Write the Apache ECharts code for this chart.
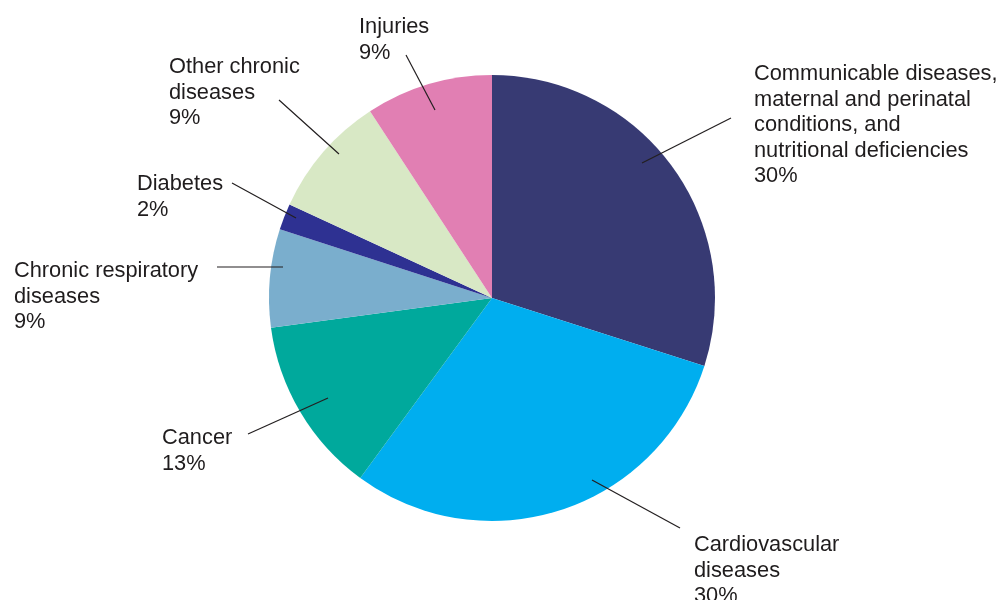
<!DOCTYPE html>
<html>
<head>
<meta charset="utf-8">
<script src="https://cdn.jsdelivr.net/npm/echarts@6/dist/echarts.min.js"></script>
<style>html,body{margin:0;padding:0;background:#fff}#c{width:1000px;height:600px}</style>
</head>
<body>
<div id="c"></div>
<script>
// Data (clockwise from 12 o'clock)
const categories = [
  'Communicable diseases,\nmaternal and perinatal\nconditions, and\nnutritional deficiencies',
  'Cardiovascular\ndiseases',
  'Cancer',
  'Chronic respiratory\ndiseases',
  'Diabetes',
  'Other chronic\ndiseases',
  'Injuries'
];
const values = [29.9, 30.1, 12.8, 7.1, 1.9, 8.9, 9.2];
const pctLabels = ['30%', '30%', '13%', '9%', '2%', '9%', '9%'];
const colors = ['#373a73', '#00aeef', '#00a99c', '#7aaecd', '#2e3192', '#d8e8c5', '#e17fb3'];

// Label layout (text top-left and leader line ends)
const labelBox = [
  {x: 754, y: 61.5, line: [[642, 163], [731, 118]]},
  {x: 694, y: 532.5, line: [[592, 480], [680, 528]]},
  {x: 162, y: 425.5, line: [[328, 398], [248, 434]]},
  {x: 14, y: 258.5, line: [[283, 267], [217, 267]]},
  {x: 137, y: 171.5, line: [[296, 218], [232, 183]]},
  {x: 169, y: 54.5, line: [[339, 154], [279, 100]]},
  {x: 359, y: 14.5, line: [[435, 110], [406, 55]]}
];

const pieData = categories.map((n, i) => ({name: n, value: values[i], itemStyle: {color: colors[i]}}));
const common = {
  type: 'pie',
  center: [492, 298],
  radius: [0, 223],
  startAngle: 90,
  clockwise: true,
  avoidLabelOverlap: false,
  silent: true
};

const chart = echarts.init(document.getElementById('c'), null, {renderer: 'canvas'});
chart.setOption({
  animation: false,
  backgroundColor: '#fff',
  series: [
    Object.assign({}, common, {
      z: 2,
      data: pieData,
      itemStyle: {borderWidth: 0},
      label: {show: false},
      labelLine: {show: false}
    }),
    Object.assign({}, common, {
      z: 5,
      data: pieData.map(d => ({name: d.name, value: d.value, itemStyle: {color: 'rgba(0,0,0,0)'}})),
      itemStyle: {borderWidth: 0},
      label: {
        show: true,
        position: 'outside',
        formatter: p => p.name + '\n' + pctLabels[p.dataIndex],
        color: '#1f1c1d',
        fontFamily: '"Liberation Sans", Arial, Helvetica, sans-serif',
        fontSize: 21.8,
        lineHeight: 25.5,
        align: 'left'
      },
      labelLine: {show: true, lineStyle: {color: '#231f20', width: 1.2}},
      labelLayout: function (params) {
        const b = labelBox[params.dataIndex];
        const a = b.line[0], c = b.line[1];
        return {
          x: b.x, y: b.y, align: 'left', verticalAlign: 'top',
          labelLinePoints: [a, [(a[0] + c[0]) / 2, (a[1] + c[1]) / 2], c]
        };
      }
    })
  ]
});
</script>
</body>
</html>
